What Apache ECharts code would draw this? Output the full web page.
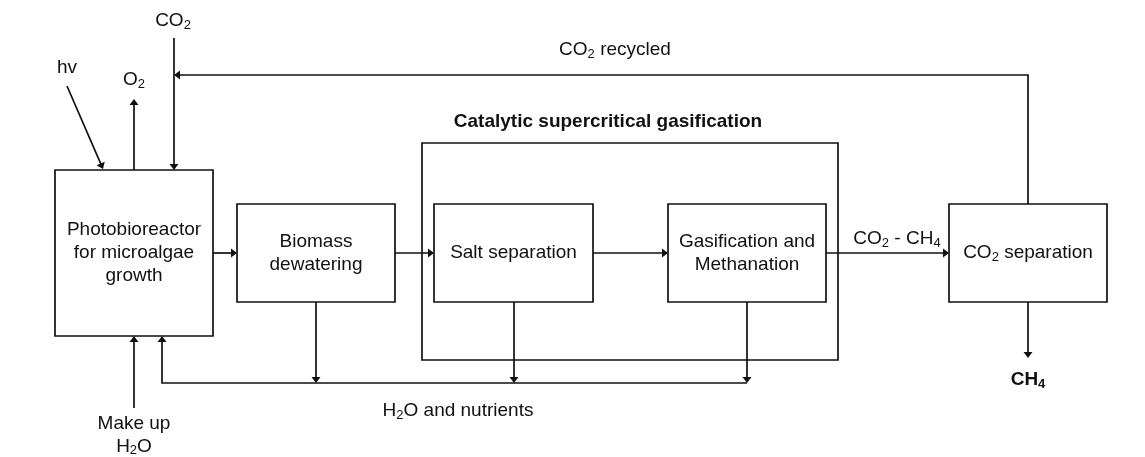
<!DOCTYPE html>
<html>
<head>
<meta charset="utf-8">
<script src="https://cdn.jsdelivr.net/npm/echarts@6/dist/echarts.min.js"></script>
<style>html,body{margin:0;padding:0;background:#fff}#c{width:1145px;height:457px}</style>
</head>
<body>
<div id="c"></div>
<script>
// ---- Diagram data ----
const boxNames   = ['Photobioreactor', 'Biomass dewatering', 'Catalytic SCWG', 'Salt separation', 'Gasification', 'CO2 separation'];
const boxLabels  = ['{n|Photobioreactor}\n{n|for microalgae}\n{n|growth}', '{n|Biomass}\n{n|dewatering}', '', '{n|Salt separation}', '{n|Gasification and}\n{n|Methanation}', '{n|CO}{s|2}{n| separation}'];
const boxLeft    = [55, 237, 422, 434, 668, 949];
const boxTop     = [170, 204, 143, 204, 204, 204];
const boxRight   = [213, 395, 838, 593, 826, 1107];
const boxBottom  = [336, 302, 360, 302, 302, 302];

const flowNames = ['hv', 'O2 out', 'CO2 in', 'CO2 recycled', 'to dewatering', 'to salt sep', 'to gasification', 'CO2-CH4', 'CH4 out', 'water 1', 'water 2', 'water 3', 'water return', 'make up'];
const flowPaths = [
  [[67, 86], [103, 169]],
  [[134, 170], [134, 99]],
  [[174, 38], [174, 170]],
  [[1028, 204], [1028, 75], [174, 75]],
  [[213, 253], [237, 253]],
  [[395, 253], [434, 253]],
  [[593, 253], [668, 253]],
  [[826, 253], [949, 253]],
  [[1028, 302], [1028, 358]],
  [[316, 302], [316, 383]],
  [[514, 302], [514, 383]],
  [[747, 302], [747, 383]],
  [[747, 383], [162, 383], [162, 336]],
  [[134, 408], [134, 336]]
];

const labelTexts = ['{n|CO}{s|2}', '{n|O}{s|2}', '{n|hv}', '{n|CO}{s|2}{n| recycled}', '{b|Catalytic supercritical gasification}', '{n|CO}{s|2}{n| - CH}{s|4}', '{b|CH}{bs|4}', '{n|H}{s|2}{n|O and nutrients}', '{n|Make up}\n{n|H}{s|2}{n|O}'];
const labelX = [173, 134, 67, 615, 608, 897, 1028, 458, 134];
const labelY = [21, 80, 68, 50, 122, 239, 380, 411, 435];

// ---- Styles ----
const FONT = '"Liberation Sans", Arial, Helvetica, sans-serif';
const rich = {
  n: { fontSize: 19, fontFamily: FONT, fill: '#111', lineHeight: 23 },
  s: { fontSize: 13, fontFamily: FONT, fill: '#111', padding: [8, 0, 0, 0] },
  b: { fontSize: 19, fontFamily: FONT, fontWeight: 'bold', fill: '#111', lineHeight: 23 },
  bs: { fontSize: 13, fontFamily: FONT, fontWeight: 'bold', fill: '#111', padding: [8, 0, 0, 0] }
};
const LW = 1.7;

function idx(arr) { return arr.map((_, i) => [i]); }

const chart = echarts.init(document.getElementById('c'), null, { renderer: 'canvas' });
chart.setOption({
  animation: false,
  backgroundColor: '#fff',
  grid: { left: 0, right: 0, top: 0, bottom: 0 },
  xAxis: { type: 'value', min: 0, max: 1145, show: false },
  yAxis: { type: 'value', min: 0, max: 457, inverse: true, show: false },
  series: [
    {
      type: 'custom', name: 'boxes', coordinateSystem: 'cartesian2d',
      data: idx(boxNames),
      renderItem: function (params, api) {
        const i = api.value(0);
        const a = api.coord([boxLeft[i], boxTop[i]]);
        const b = api.coord([boxRight[i], boxBottom[i]]);
        const children = [{
          type: 'rect',
          shape: { x: a[0], y: a[1], width: b[0] - a[0], height: b[1] - a[1] },
          style: { fill: i === 2 ? 'none' : '#fff', stroke: '#111', lineWidth: LW }
        }];
        if (boxLabels[i]) {
          children.push({
            type: 'text',
            style: { text: boxLabels[i], rich: rich, x: (a[0] + b[0]) / 2, y: (a[1] + b[1]) / 2, align: 'center', verticalAlign: 'middle' }
          });
        }
        return { type: 'group', children: children };
      }
    },
    {
      type: 'custom', name: 'flows', coordinateSystem: 'cartesian2d',
      data: idx(flowNames),
      renderItem: function (params, api) {
        const pts = flowPaths[api.value(0)].map(p => api.coord(p));
        const q = pts[pts.length - 1], p = pts[pts.length - 2];
        let dx = q[0] - p[0], dy = q[1] - p[1];
        const len = Math.sqrt(dx * dx + dy * dy); dx /= len; dy /= len;
        const L = 6, W = 4.5;
        const bx = q[0] - dx * L, by = q[1] - dy * L;
        const line = pts.slice(0, -1).concat([[q[0] - dx * 2, q[1] - dy * 2]]);
        return {
          type: 'group',
          children: [
            { type: 'polyline', shape: { points: line }, style: { stroke: '#111', lineWidth: LW, fill: null } },
            { type: 'polygon', shape: { points: [q, [bx - dy * W, by + dx * W], [bx + dy * W, by - dx * W]] }, style: { fill: '#111' } }
          ]
        };
      }
    },
    {
      type: 'custom', name: 'labels', coordinateSystem: 'cartesian2d',
      data: idx(labelTexts),
      renderItem: function (params, api) {
        const i = api.value(0);
        const c = api.coord([labelX[i], labelY[i]]);
        return { type: 'text', style: { text: labelTexts[i], rich: rich, x: c[0], y: c[1], align: 'center', verticalAlign: 'middle' } };
      }
    }
  ]
});
</script>
</body>
</html>
